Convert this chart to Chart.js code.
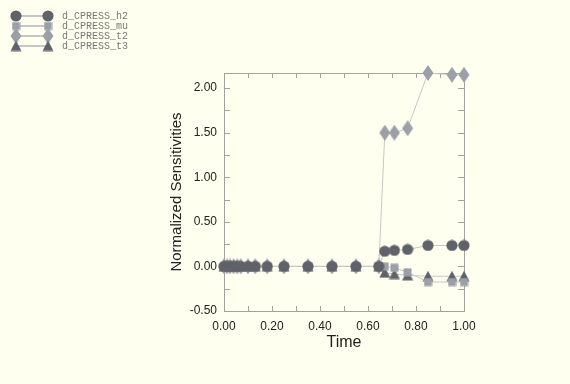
<!DOCTYPE html>
<html><head><meta charset="utf-8">
<script src="https://cdn.jsdelivr.net/npm/chart.js@4"></script>
<style>html,body{margin:0;padding:0;background:#fffff0;}#wrap{width:570px;height:384px;position:relative;}</style>
</head><body><div id="wrap"><canvas id="c" width="570" height="384"></canvas></div>
<script>
const time = [0, 0.012, 0.025, 0.04, 0.055, 0.07, 0.1, 0.13, 0.18, 0.25, 0.35, 0.45, 0.55, 0.645, 0.67, 0.71, 0.765, 0.85, 0.95, 1.0];
const h2 = [0,0,0,0,0,0,0,0,0,0,0,0,0,0, 0.17, 0.18, 0.19, 0.235, 0.235, 0.235];
const mu = [0,0,0,0,0,0,0,0,0,0,0,0,0,0, 0.0, -0.015, -0.065, -0.175, -0.175, -0.175];
const t2 = [0,0,0,0,0,0,0,0,0,0,0,0,0,0, 1.5, 1.5, 1.55, 2.17, 2.15, 2.15];
const t3 = [0,0,0,0,0,0,0,0,0,0,0,0,0,0, -0.07, -0.085, -0.1, -0.11, -0.11, -0.11];
const seriesNames = ['d_CPRESS_h2','d_CPRESS_mu','d_CPRESS_t2','d_CPRESS_t3'];
const yTickValues = [-0.5, 0, 0.5, 1.0, 1.5, 2.0];
const xTickValues = [0, 0.2, 0.4, 0.6, 0.8, 1.0];

const C_DARK = '#5f6369', C_LIGHT = '#9ba0a8', C_LINE = '#c6c6c6';

function mk(w,h,draw){const c=document.createElement('canvas');c.width=w;c.height=h;const x=c.getContext('2d');draw(x,w,h);return c;}
const imgCircle = mk(12,12,(x)=>{x.fillStyle=C_DARK;x.beginPath();x.arc(6,6,5.6,0,Math.PI*2);x.fill();});
const imgSquare = mk(9,9,(x)=>{x.fillStyle=C_LIGHT;x.fillRect(0.5,0.5,8,8);});
const imgDiamond = mk(12,16,(x)=>{x.fillStyle=C_LIGHT;x.beginPath();x.moveTo(6,0);x.lineTo(11.5,8);x.lineTo(6,16);x.lineTo(0.5,8);x.closePath();x.fill();});
const imgTri = mk(12,11,(x)=>{x.fillStyle=C_DARK;x.beginPath();x.moveTo(6,0);x.lineTo(11.5,10.5);x.lineTo(0.5,10.5);x.closePath();x.fill();});
const imgs=[imgCircle,imgSquare,imgDiamond,imgTri];

function pts(arr){return time.map((t,i)=>({x:t,y:arr[i]}));}
const all=[h2,mu,t2,t3];
const datasets = all.map((a,i)=>({label:seriesNames[i],data:pts(a),borderColor:C_LINE,borderWidth:1,pointStyle:imgs[i],pointRadius:6,showLine:true,tension:0,clip:false}));

const FONT='"Liberation Sans", Arial, Helvetica, sans-serif';

const frame = {
  id:'frame',
  beforeDatasetsDraw(chart){
    const {ctx,chartArea:a,scales:{x,y}}=chart;
    ctx.save();
    ctx.strokeStyle='#a3a39b';ctx.lineWidth=1;
    ctx.beginPath();
    for(let v=0; v<=1.0001; v+=0.1){
      const px=Math.round(x.getPixelForValue(v))+0.5;
      ctx.moveTo(px,a.bottom);ctx.lineTo(px,a.bottom-5);
      ctx.moveTo(px,a.top);ctx.lineTo(px,a.top+5);
    }
    for(let v=-0.5; v<=2.0001; v+=0.25){
      const py=Math.round(y.getPixelForValue(v))+0.5;
      ctx.moveTo(a.left,py);ctx.lineTo(a.left+6,py);
      ctx.moveTo(a.right,py);ctx.lineTo(a.right-6,py);
    }
    ctx.stroke();
    ctx.strokeRect(Math.round(a.left)+0.5,Math.round(a.top)+0.5,Math.round(a.right-a.left),Math.round(a.bottom-a.top));
    ctx.restore();
  },
  afterDraw(chart){
    const ctx=chart.ctx;
    ctx.save();
    ctx.font='10px "Liberation Mono", "DejaVu Sans Mono", monospace';
    ctx.textBaseline='middle';
    for(let i=0;i<4;i++){
      const yy=16+i*10;
      ctx.strokeStyle=C_LINE;ctx.lineWidth=2;
      ctx.beginPath();ctx.moveTo(16,yy);ctx.lineTo(48,yy);ctx.stroke();
      const im=imgs[i];
      ctx.drawImage(im,16-im.width/2,yy-im.height/2);
      ctx.drawImage(im,48-im.width/2,yy-im.height/2);
      ctx.fillStyle='#777777';
      ctx.fillText(seriesNames[i],62,yy);
    }
    ctx.restore();
  }
};

new Chart(document.getElementById('c'),{
  type:'scatter',
  data:{datasets},
  options:{
    responsive:false,animation:false,
    layout:{padding:{left:168,right:106,top:73,bottom:32}},
    plugins:{legend:{display:false},tooltip:{enabled:false}},
    scales:{
      x:{type:'linear',min:0,max:1,
        afterBuildTicks:(s)=>{s.ticks=xTickValues.map(v=>({value:v}));},
        afterFit:(s)=>{s.height=41;},
        grid:{display:false,drawTicks:false},border:{display:false},
        ticks:{padding:8,color:'#222',font:{family:FONT,size:12},callback:(v)=>Number(v).toFixed(2),maxRotation:0},
        title:{display:true,text:'Time',color:'#222',font:{family:FONT,size:16},padding:{top:0,bottom:0}}
      },
      y:{type:'linear',min:-0.5,max:2.17,
        afterBuildTicks:(s)=>{s.ticks=yTickValues.map(v=>({value:v}));},
        afterFit:(s)=>{s.width=56;},
        grid:{display:false,drawTicks:false},border:{display:false},
        ticks:{padding:7,color:'#222',font:{family:FONT,size:12},callback:(v)=>Number(v).toFixed(2)},
        title:{display:true,text:'Normalized Sensitivities',color:'#222',font:{family:FONT,size:15},padding:{top:0,bottom:0}}
      }
    }
  },
  plugins:[frame]
});
</script></body></html>
